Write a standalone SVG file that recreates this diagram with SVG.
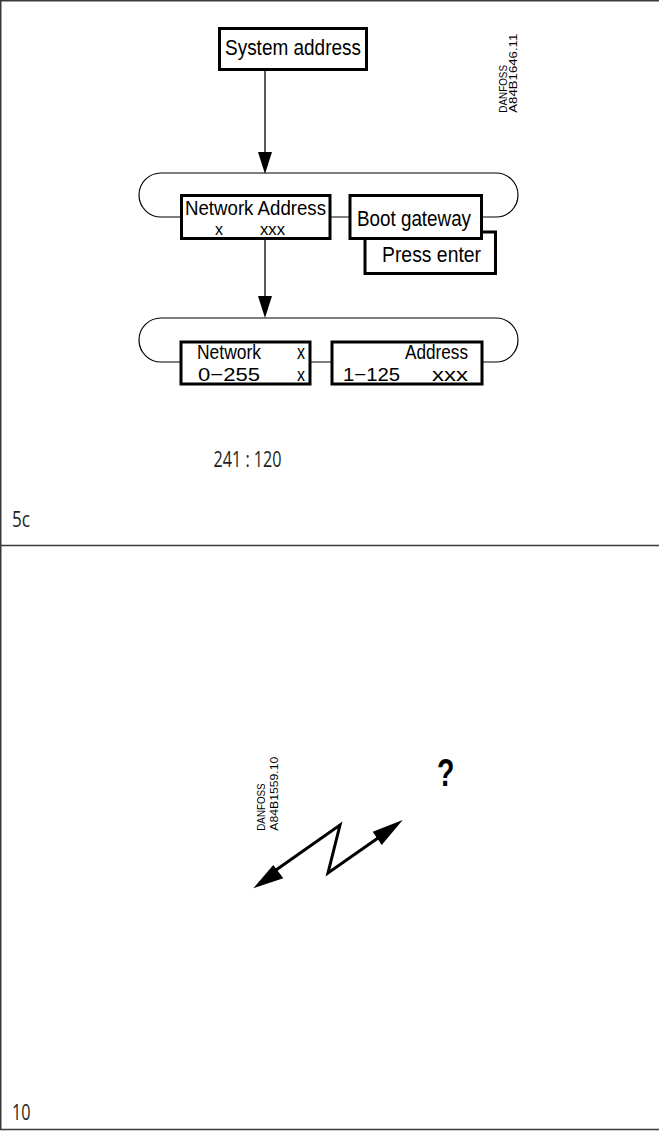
<svg xmlns="http://www.w3.org/2000/svg" width="659" height="1133" viewBox="0 0 659 1133">
<style>
.frame{fill:none;stroke:#3a3a3a;stroke-width:1.5}
.box{fill:#fff;stroke:#000;stroke-width:3}
.loop{fill:none;stroke:#000;stroke-width:1.2}
.ln{fill:none;stroke:#000;stroke-width:1.3}
.zz{fill:none;stroke:#000;stroke-width:3;stroke-linejoin:miter}
.head{fill:#000;stroke:none}
.cad{font-family:"Liberation Sans",Arial,sans-serif;font-size:22px;fill:#000}
.sm{font-size:16px}
.r1{font-size:20px}
.r2{font-size:19px}
.tag{font-family:"Liberation Sans",Arial,sans-serif;font-size:11px;fill:#000}
.cap{font-family:"Open Sans","Noto Sans",sans-serif;font-size:22px;fill:#231f20}
</style>
<rect width="659" height="1133" fill="#fff"/>
<g id="frame">
<line class="frame" x1="0" y1="0.75" x2="659" y2="0.75"/>
<line class="frame" x1="0.75" y1="0" x2="0.75" y2="1130"/>
<line class="frame" x1="0" y1="545.5" x2="659" y2="545.5"/>
<line class="frame" x1="0" y1="1129.5" x2="659" y2="1129.5"/>
</g>
<g id="connectors">
<line class="ln" x1="265" y1="70" x2="265" y2="153"/>
<polygon class="head" points="258,152 272,152 265,174"/>
<line class="ln" x1="265" y1="238" x2="265" y2="297"/>
<polygon class="head" points="258,296 272,296 265,318"/>
</g>
<g id="loop-upper"><rect class="loop" x="139" y="173" width="379" height="44" rx="22" ry="22"/></g>
<g id="loop-lower"><rect class="loop" x="139" y="318" width="379" height="44" rx="22" ry="22"/></g>
<g id="system-address">
<rect class="box" x="219.5" y="28.5" width="147" height="41"/>
<text class="cad" x="225" y="54.5" textLength="136" lengthAdjust="spacingAndGlyphs">System address</text>
</g>
<g id="network-address">
<rect class="box" x="181.5" y="195.5" width="148.5" height="43"/>
<text class="cad r1" x="185" y="215" textLength="141" lengthAdjust="spacingAndGlyphs">Network Address</text>
<text class="cad sm" y="234.5"><tspan x="215" textLength="8" lengthAdjust="spacingAndGlyphs">x</tspan><tspan x="260" textLength="25" lengthAdjust="spacingAndGlyphs">xxx</tspan></text>
</g>
<g id="press-enter">
<rect class="box" x="365" y="232" width="130.5" height="41.5"/>
<text class="cad" x="382" y="262" textLength="99" lengthAdjust="spacingAndGlyphs">Press enter</text>
</g>
<g id="boot-gateway">
<rect class="box" x="350" y="195.5" width="131.5" height="43"/>
<text class="cad" x="357" y="226" textLength="114" lengthAdjust="spacingAndGlyphs">Boot gateway</text>
</g>
<g id="network">
<rect class="box" x="181" y="342" width="129" height="42"/>
<text class="cad r1" x="197" y="358.5" textLength="64" lengthAdjust="spacingAndGlyphs">Network</text>
<text class="cad r1" x="297" y="358.5" textLength="8" lengthAdjust="spacingAndGlyphs">x</text>
<text class="cad r2" x="198" y="380.5" textLength="62" lengthAdjust="spacingAndGlyphs">0−255</text>
<text class="cad r2" x="297" y="380.5" textLength="8" lengthAdjust="spacingAndGlyphs">x</text>
</g>
<g id="address">
<rect class="box" x="332" y="342" width="150" height="42"/>
<text class="cad r1" x="405" y="358.5" textLength="63" lengthAdjust="spacingAndGlyphs">Address</text>
<text class="cad r2" x="343" y="380.5" textLength="57" lengthAdjust="spacingAndGlyphs">1−125</text>
<text class="cad r2" x="432" y="380.5" textLength="36" lengthAdjust="spacingAndGlyphs">xxx</text>
</g>
<g id="code-upper">
<text class="tag" transform="translate(507,112.7) rotate(-90)" textLength="47.7" lengthAdjust="spacingAndGlyphs">DANFOSS</text>
<text class="tag" transform="translate(516.5,112.7) rotate(-90)" textLength="79" lengthAdjust="spacingAndGlyphs">A84B1646.11</text>
</g>
<text class="cap" x="213.5" y="466.5" textLength="68" lengthAdjust="spacingAndGlyphs">241 : 120</text>
<text class="cap" x="12" y="526.5" textLength="18" lengthAdjust="spacingAndGlyphs">5c</text>
<g id="code-lower">
<text class="tag" transform="translate(265,830.7) rotate(-90)" textLength="47.3" lengthAdjust="spacingAndGlyphs">DANFOSS</text>
<text class="tag" transform="translate(278,830.7) rotate(-90)" textLength="74" lengthAdjust="spacingAndGlyphs">A84B1559.10</text>
</g>
<g id="question">
<text transform="translate(437,785.5) scale(0.75,1)" font-family="Liberation Sans, Arial, sans-serif" font-weight="bold" font-size="38" fill="#000">?</text>
</g>
<g id="lightning">
<polyline class="zz" points="276,870 340,825 328,873 378,838"/>
<polygon class="head" points="253.3,888.3 273.3,865 283.3,878.3"/>
<polygon class="head" points="402.7,820 372.7,831.7 381.7,845"/>
</g>
<text class="cap" x="12" y="1120" textLength="18.5" lengthAdjust="spacingAndGlyphs">10</text>
</svg>
